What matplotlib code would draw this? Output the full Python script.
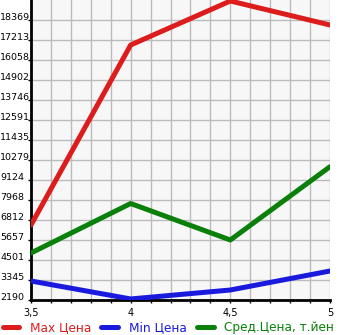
import matplotlib
matplotlib.use("Agg")
import matplotlib.pyplot as plt
from matplotlib.ticker import MultipleLocator, FixedLocator

x = [3.5, 4, 4.5, 5]
max_price = [6524, 16924, 19467, 18080]
min_price = [3288, 2250, 2768, 3866]
avg_price = [4906, 7766, 5657, 9893]

y_ticks = [2190, 3345, 4501, 5657, 6812, 7968, 9124, 10279, 11435,
           12591, 13746, 14902, 16058, 17213, 18369]
x_ticks = [3.5, 4, 4.5, 5]
x_labels = ["3,5", "4", "4,5", "5"]

RED = "#dd1c1c"
BLUE = "#1a1adf"
GREEN = "#0a800a"

fig = plt.figure(figsize=(3.45, 3.35), dpi=100)
ax = fig.add_axes([31 / 345, 1 - 300 / 335, 299 / 345, 300 / 335])
ax.set_facecolor("#f7f7f7")

ax.plot(x, max_price, color=RED, lw=3.6, solid_capstyle="round", label="Max Цена", zorder=3)
ax.plot(x, min_price, color=BLUE, lw=3.6, solid_capstyle="round", label="Min Цена", zorder=3)
ax.plot(x, avg_price, color=GREEN, lw=3.6, solid_capstyle="round", label="Сред.Цена, т.йен", zorder=3)

ax.set_xlim(3.5, 5)
ax.set_ylim(2190, 2190 + 15 * (18369 - 2190) / 14)
ax.yaxis.set_major_locator(FixedLocator(y_ticks))
ax.set_yticklabels([str(v) for v in y_ticks])
ax.xaxis.set_major_locator(FixedLocator(x_ticks))
ax.set_xticklabels(x_labels)
ax.xaxis.set_minor_locator(MultipleLocator(0.1))

ax.grid(True, which="both", axis="x", color="#bbbbbb", lw=1)
ax.grid(True, which="major", axis="y", color="#bbbbbb", lw=1)
ax.set_axisbelow(True)

for side in ["top", "right"]:
    ax.spines[side].set_visible(False)
for side in ["left", "bottom"]:
    ax.spines[side].set_linewidth(2)

# labels start at the left edge of the figure and run into the ticks
ax.tick_params(axis="y", length=2.2, width=1, pad=20.1, labelsize=6.8)
for lbl in ax.get_yticklabels():
    lbl.set_horizontalalignment("left")
    lbl.set_verticalalignment("baseline")
ax.tick_params(axis="x", which="both", length=2.2, width=1, pad=3.4, labelsize=7)

leg = fig.legend(loc="center left", bbox_to_anchor=(2.5 / 345, 7 / 335), ncol=3, frameon=False,
                 fontsize=8.7, handlelength=1.4, handletextpad=0.85, columnspacing=0.85,
                 borderpad=0, borderaxespad=0)
for txt, col in zip(leg.get_texts(), [RED, BLUE, GREEN]):
    txt.set_color(col)

fig.savefig("out.png", dpi=100)
